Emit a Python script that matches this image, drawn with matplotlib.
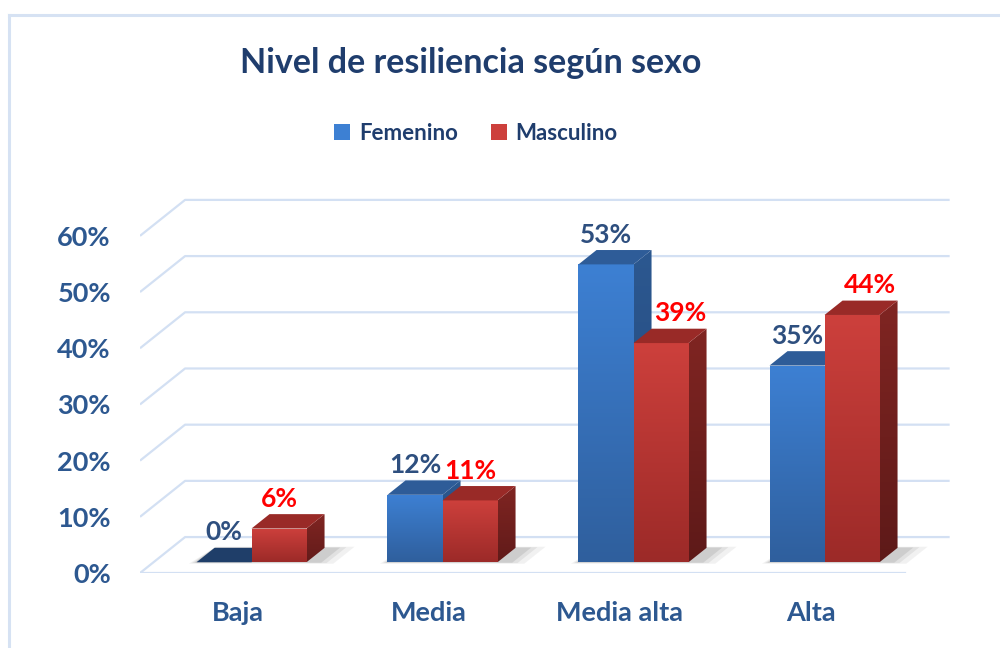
import numpy as np
import matplotlib.pyplot as plt
from matplotlib.patches import Polygon, Rectangle
from matplotlib.lines import Line2D
from matplotlib.colors import LinearSegmentedColormap

categorias = ['Baja', 'Media', 'Media alta', 'Alta']
series = ['Femenino', 'Masculino']
femenino = [0, 12, 53, 35]
masculino = [6, 11, 39, 44]
yticks = [0, 10, 20, 30, 40, 50, 60]

plt.rcParams['font.family'] = ['Lato', 'DejaVu Sans']

# geometria pseudo 3D en unidades de datos
ancho = 0.288
prof_x, prof_y = 0.236, 6.4
z0, z1 = 0.3, 0.7
x_ini, x_fin = -0.513, 3.49

col_txt = '#2d5890'
col_grid = '#d3e0f3'

estilos = {
    'Femenino': dict(front=('#2f5f9d', '#3d80d3'), side=('#234679', '#2c5890'),
                     top='#2e5c98', cero='#1f3e69', etiqueta='#2e4f7f'),
    'Masculino': dict(front=('#9c2a28', '#cd403c'), side=('#5c1918', '#802522'),
                      top='#992a27', cero='#992a27', etiqueta='#ff0000'),
}
# desplazamiento horizontal manual de algunas etiquetas (puntos)
desplaz = {('Masculino', 2): 14, ('Masculino', 3): 13}


def P(x, y, z):
    return (x + z * prof_x, y + z * prof_y)


fig = plt.figure(figsize=(10, 6.48), dpi=100)
ax = fig.add_axes([0.14, 0.1157, 0.815, 0.591])

# rejilla 3D
for v in yticks:
    pts = [P(x_ini, v, 0), P(x_ini, v, 1), P(x_fin, v, 1)]
    ax.plot(*zip(*pts), color=col_grid, lw=1.6, zorder=1, solid_capstyle='butt')
ax.plot(*zip(P(x_ini, 0, 0), P(x_fin, 0, 0)), color=col_grid, lw=1.6, zorder=1)

zo = 5
for i in range(len(categorias)):
    # sombra suave en el suelo
    xa, xb = i - ancho, i + ancho
    for k, a in zip([0.10, 0.06, 0.03], [0.08, 0.10, 0.14]):
        sombra = [P(xa - k * 0.3, 0, z0 - k * 0.4), P(xb + 0.05 + k, 0, z0 - k * 0.4),
                  P(xb + 0.05 + k, 0, z1 + k * 0.3), P(xa, 0, z1 + k * 0.3)]
        ax.add_patch(Polygon(sombra, closed=True, facecolor='#555555', edgecolor='none',
                             alpha=a, zorder=zo))
    zo += 1
    for j, (nombre, vals) in enumerate(zip(series, [femenino, masculino])):
        v = vals[i]
        st = estilos[nombre]
        x0 = i - ancho + j * ancho
        x1 = x0 + ancho
        if v > 0:
            frente = Polygon([P(x0, 0, z0), P(x1, 0, z0), P(x1, v, z0), P(x0, v, z0)],
                             closed=True, facecolor='none', edgecolor='none', zorder=zo)
            ax.add_patch(frente)
            fx0, fy0 = P(x0, 0, z0)
            fx1, fy1 = P(x1, v, z0)
            cm = LinearSegmentedColormap.from_list('f', list(st['front']))
            im = ax.imshow(np.linspace(0, 1, 200).reshape(-1, 1), extent=[fx0, fx1, fy0, fy1],
                           origin='lower', cmap=cm, aspect='auto', zorder=zo)
            im.set_clip_path(frente)
            zo += 1
            lado = Polygon([P(x1, 0, z0), P(x1, 0, z1), P(x1, v, z1), P(x1, v, z0)],
                           closed=True, facecolor='none', edgecolor='none', zorder=zo)
            ax.add_patch(lado)
            sx0, sy0 = P(x1, 0, z0)
            sx1, sy1 = P(x1, v, z1)
            cm2 = LinearSegmentedColormap.from_list('s', list(st['side']))
            im2 = ax.imshow(np.linspace(0, 1, 200).reshape(-1, 1), extent=[sx0, sx1, sy0 - 2, sy1],
                            origin='lower', cmap=cm2, aspect='auto', zorder=zo)
            im2.set_clip_path(lado)
            zo += 1
        tapa = [P(x0, v, z0), P(x1, v, z0), P(x1, v, z1), P(x0, v, z1)]
        ax.add_patch(Polygon(tapa, closed=True, facecolor=st['top'] if v > 0 else st['cero'],
                             edgecolor='none', zorder=zo))
        zo += 1
        cx, cy = P((x0 + x1) / 2, v, z0)
        ax.annotate(f'{v}%', xy=(cx, cy), xytext=(desplaz.get((nombre, i), 0), 21.5),
                    textcoords='offset points', ha='center', va='center', fontsize=19,
                    color=st['etiqueta'], fontweight='bold', zorder=100)

ax.set_xlim(-0.513, 3.754)
ax.set_ylim(0, 68.15)
for s in ax.spines.values():
    s.set_visible(False)
ax.set_yticks(yticks)
ax.set_yticklabels([f'{v}%' for v in yticks])
ax.set_xticks(range(len(categorias)))
ax.set_xticklabels(categorias)
ax.tick_params(axis='y', length=0, pad=21, labelsize=19.5, labelcolor=col_txt)
ax.tick_params(axis='x', length=0, pad=20, labelsize=19.5, labelcolor=col_txt)
for t in ax.get_xticklabels() + ax.get_yticklabels():
    t.set_fontweight('bold')
ax.patch.set_visible(False)

fig.text(0.471, 1 - 63 / 648, 'Nivel de resiliencia según sexo', ha='center', va='center',
         fontsize=24.5, fontweight='bold', color='#1f3d6d')

handles = [Rectangle((0, 0), 1, 1, facecolor=estilos[s]['front'][1], edgecolor='none') for s in series]
fig.legend(handles, series, loc='center', bbox_to_anchor=(0.476, 1 - 133 / 648), ncol=2,
           frameon=False, handlelength=0.7, handleheight=0.7,
           handletextpad=0.4, columnspacing=1.5, labelcolor='#1f3d6d',
           prop={'weight': 'bold', 'size': 16})

# borde del grafico
fig.add_artist(Line2D([0.009, 1], [1 - 15 / 648, 1 - 15 / 648], color='#d6e2f3', lw=2.2))
fig.add_artist(Line2D([0.009, 0.009], [0, 1 - 15 / 648], color='#d6e2f3', lw=2.2))

fig.savefig('out.png', dpi=100)
